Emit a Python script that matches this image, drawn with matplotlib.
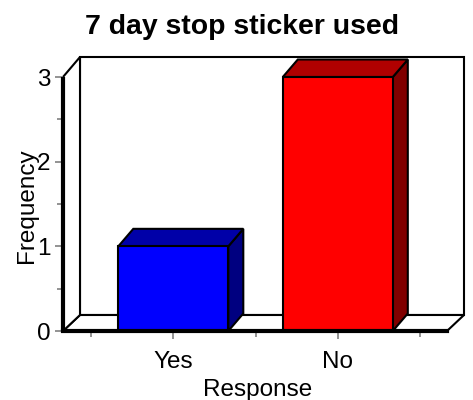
import matplotlib
matplotlib.use("Agg")
import matplotlib.pyplot as plt
from matplotlib.patches import Polygon

plt.rcParams['font.family'] = ['Liberation Sans', 'DejaVu Sans']

categories = ["Yes", "No"]
frequency = [1, 3]
front_colors = ["#0000ff", "#ff0000"]
top_colors = ["#0000a8", "#b00000"]
side_colors = ["#000080", "#800000"]
y_ticks = [0, 1, 2, 3]
y_minor = [0.5, 1.5, 2.5]
x_minor = [-0.5, 0.5, 1.5]

W, H = 473, 400
fig = plt.figure(figsize=(W / 100, H / 100), dpi=100)
L, R, B, T = 63, 447, 331, 77
ax = fig.add_axes([L / W, 1 - B / H, (R - L) / W, (B - T) / H])
sx = 164.5
ax.set_xlim(-(173.3 - L) / sx, 1 + (R - 337.8) / sx)
ax.set_ylim(0, 3)
sy = (B - T) / 3
ax.patch.set_visible(False)

# depth of the 3D box, in data units
wall_dx = 17 / sx
floor_dy, top_dy = 16 / sy, 20 / sy
bar_dx, bar_dy = 15 / sx, 17.5 / sy
x0, x1 = ax.get_xlim()
edge = dict(edgecolor='black', clip_on=False)

ax.add_patch(Polygon([(x0 + wall_dx, floor_dy), (x1 + wall_dx, floor_dy), (x1 + wall_dx, 3 + top_dy), (x0 + wall_dx, 3 + top_dy)],
                     facecolor='white', lw=1.5, zorder=1, **edge))
ax.add_patch(Polygon([(x0, 0), (x1, 0), (x1 + wall_dx, floor_dy), (x0 + wall_dx, floor_dy)],
                     facecolor='white', lw=1.5, zorder=1.2, **edge))
ax.add_patch(Polygon([(x0, 0), (x0 + wall_dx, floor_dy), (x0 + wall_dx, 3 + top_dy), (x0, 3)],
                     facecolor='white', lw=1.5, zorder=1.2, **edge))

hw = 55 / sx
for i, v in enumerate(frequency):
    ax.add_patch(Polygon([(i + hw, 0), (i + hw + bar_dx, bar_dy), (i + hw + bar_dx, v + bar_dy), (i + hw, v)],
                         facecolor=side_colors[i], lw=1.5, zorder=2, **edge))
    ax.add_patch(Polygon([(i - hw, v), (i + hw, v), (i + hw + bar_dx, v + bar_dy), (i - hw + bar_dx, v + bar_dy)],
                         facecolor=top_colors[i], lw=1.5, zorder=2, **edge))
    ax.bar(i, v, width=2 * hw, color=front_colors[i], edgecolor='black', lw=1.5, zorder=3, clip_on=False)

for s in ['top', 'right']:
    ax.spines[s].set_visible(False)
for s in ['left', 'bottom']:
    ax.spines[s].set_linewidth(3)
    ax.spines[s].set_color('black')
    ax.spines[s].set_zorder(4)
ax.spines['left'].set_capstyle('butt')

ax.set_xticks(range(len(categories)), categories)
ax.set_xticks(x_minor, minor=True)
ax.set_yticks(y_ticks)
ax.set_yticks(y_minor, minor=True)
ax.tick_params(axis='both', which='major', length=6, width=1.2, color='#808080', labelsize=17.5, labelcolor='black')
ax.tick_params(axis='y', which='major', pad=3)
ax.tick_params(axis='x', which='major', pad=8.5)
ax.tick_params(axis='both', which='minor', length=4, width=1.2, color='#808080')

ax.set_xlabel("Response", fontsize=17.5)
ax.xaxis.set_label_coords((258 - L) / (R - L), -(390 - B) / (B - T), transform=ax.transAxes)
ax.xaxis.label.set_va('center')
ax.set_ylabel("Frequency", fontsize=17.5)
ax.yaxis.set_label_coords(-(L - 26.5) / (R - L), (B - 206) / (B - T), transform=ax.transAxes)
ax.yaxis.label.set_va('center')

fig.text(241.5 / W, 1 - 27.5 / H, "7 day stop sticker used", fontsize=20.4, fontweight='bold', ha='center', va='center')
fig.savefig("out.png", dpi=100, facecolor='white')
